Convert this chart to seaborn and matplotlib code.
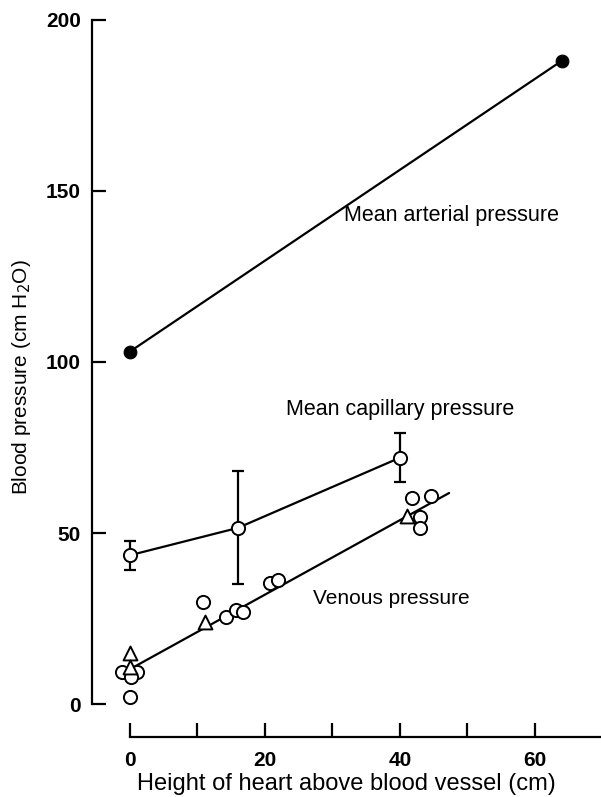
import numpy as np
import matplotlib as mpl
from matplotlib import pyplot as plt
import seaborn as sns
import pandas as pd

sns.set_style("ticks")
plt.rcParams['font.family'] = ['Liberation Sans', 'DejaVu Sans']
plt.rcParams.update({'text.color': 'black', 'axes.labelcolor': 'black',
                     'xtick.color': 'black', 'ytick.color': 'black',
                     'axes.edgecolor': 'black'})

# mean arterial pressure
art_x = [0, 64]
art_y = [103, 188]

# mean capillary pressure with error bars
cap_x = [0, 16, 40]
cap_y = [43.5, 51.5, 72]
cap_err = [4.2, 16.5, 7.2]

# venous pressure, circles and triangles
ven_circ_x = [-1.2, 1.0, 0.2, 0, 10.8, 14.2, 15.8, 16.8, 20.7, 21.9, 41.8, 44.6, 43.0, 43.0]
ven_circ_y = [9.4, 9.4, 7.9, 2.0, 29.8, 25.4, 27.5, 26.9, 35.4, 36.3, 60.2, 60.8, 54.7, 51.5]
ven_tri_x = [0, 0, 11.1, 41.1]
ven_tri_y = [14.9, 11.0, 24.0, 55.0]
ven_fit_x = [0, 47.3]
ven_fit_y = [10.2, 61.7]

fig = plt.figure(figsize=(6.01, 7.97), dpi=100)
ax = fig.add_axes([92 / 601, 60 / 797, 1 - 92 / 601, 1 - 78 / 797])

lw = 1.6
sns.lineplot(x=ven_fit_x, y=ven_fit_y, ax=ax, color='black', linewidth=lw, zorder=1)
sns.lineplot(x=cap_x, y=cap_y, ax=ax, color='black', linewidth=lw, zorder=1)
sns.lineplot(x=art_x, y=art_y, ax=ax, color='black', linewidth=lw, zorder=1)
ax.errorbar(cap_x, cap_y, yerr=cap_err, fmt='none', ecolor='black', elinewidth=lw,
            capsize=4.5, capthick=lw, zorder=2)

sns.scatterplot(x=art_x, y=art_y, ax=ax, color='black', s=85, edgecolor='black', zorder=3)
sns.scatterplot(x=cap_x, y=cap_y, ax=ax, color='white', s=90, edgecolor='black',
                linewidth=1.4, zorder=3)
sns.scatterplot(x=ven_circ_x, y=ven_circ_y, ax=ax, color='white', s=90, edgecolor='black',
                linewidth=1.4, zorder=3)
sns.scatterplot(x=ven_tri_x, y=ven_tri_y, ax=ax, marker='^', color='white', s=100,
                edgecolor='black', linewidth=1.4, zorder=4)

ax.set_xlim(-5.6, 69.8)
ax.set_ylim(-9.6, 200.5)

ax.spines['top'].set_visible(False)
ax.spines['right'].set_visible(False)
ax.spines['left'].set_bounds(0, 200)
ax.spines['bottom'].set_bounds(0, 72)
ax.spines['left'].set_linewidth(1.6)
ax.spines['bottom'].set_linewidth(1.6)

ax.set_yticks([0, 50, 100, 150, 200])
ax.set_xticks([0, 10, 20, 30, 40, 50, 60])
ax.set_xticklabels(['0', '', '20', '', '40', '', '60'])
ax.tick_params(direction='in', length=10, width=1.6, labelsize=15, pad=8)
ax.tick_params(axis='x', pad=10)
for lab in ax.get_xticklabels() + ax.get_yticklabels():
    lab.set_fontweight('bold')

ax.set_xlabel('Height of heart above blood vessel (cm)', fontsize=17, labelpad=2)
ax.set_ylabel('Blood pressure (cm H$_2$O)', fontsize=15, labelpad=9)

ax.text(47.6, 142.7, 'Mean arterial pressure', fontsize=15.5, ha='center', va='center')
ax.text(40.0, 86.0, 'Mean capillary pressure', fontsize=15.5, ha='center', va='center')
ax.text(38.8, 31.0, 'Venous pressure', fontsize=15, ha='center', va='center')

fig.savefig('out.png', dpi=100)
